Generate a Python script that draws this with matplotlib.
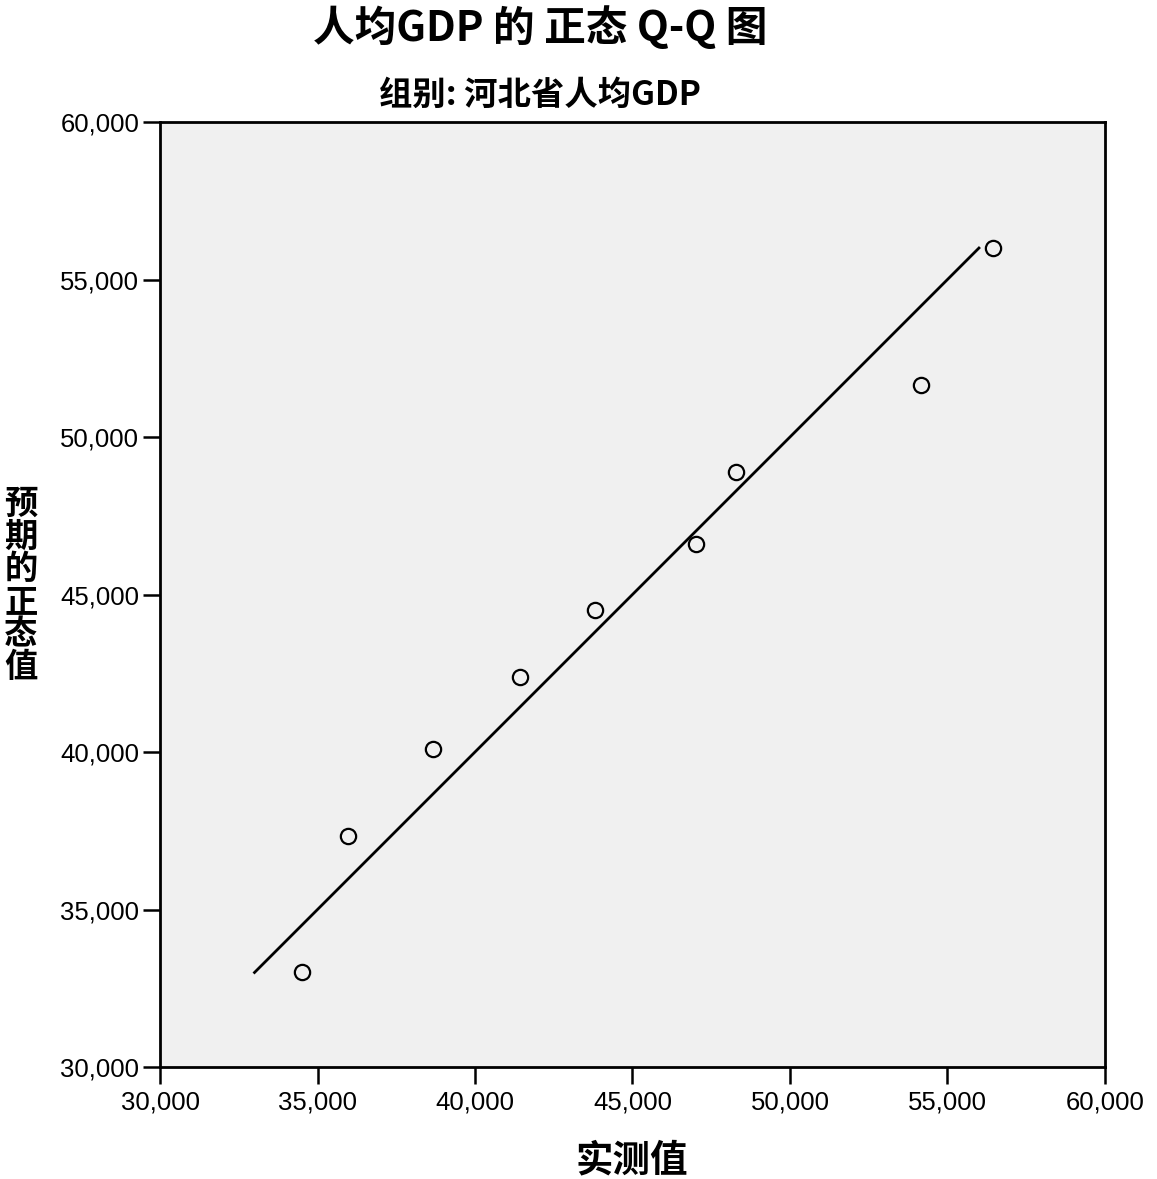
import matplotlib.pyplot as plt

plt.rcParams['font.family'] = ['Liberation Sans', 'Noto Sans CJK SC', 'DejaVu Sans']

# 河北省人均GDP: observed vs expected normal values
observed = [34500, 35970, 38670, 41430, 43810, 47020, 48290, 54160, 56440]
expected = [33010, 37330, 40100, 42380, 44510, 46600, 48890, 51650, 56000]
ref_line = [33000, 56000]

xticks = [30000, 35000, 40000, 45000, 50000, 55000, 60000]
yticks = [30000, 35000, 40000, 45000, 50000, 55000, 60000]

cjk = ['Noto Sans CJK SC', 'DejaVu Sans']

fig = plt.figure(figsize=(11.57, 11.79), dpi=100)
ax = fig.add_axes([0.1383, 0.095, 0.955 - 0.1383, 0.8965 - 0.095])
ax.set_facecolor('#f0f0f0')

# reference line y = x
ax.plot(ref_line, ref_line, color='black', linewidth=2)
ax.plot(observed, expected, linestyle='none', marker='o', markersize=11,
        markerfacecolor='none', markeredgecolor='black', markeredgewidth=1.6)

ax.set_xlim(30000, 60000)
ax.set_ylim(30000, 60000)
ax.set_xticks(xticks)
ax.set_yticks(yticks)
ax.set_xticklabels([f'{v:,}' for v in xticks])
ax.set_yticklabels([f'{v:,}' for v in yticks])
ax.tick_params(direction='out', length=12, width=1.8, labelsize=18.5, color='black')
ax.tick_params(axis='x', pad=5)
ax.tick_params(axis='y', pad=3)

for side in ['left', 'bottom', 'top', 'right']:
    ax.spines[side].set_linewidth(2)
    ax.spines[side].set_color('black')

# titles
fig.text(0.467, 0.976, '人均GDP 的 正态 Q-Q 图', ha='center', va='center',
         fontsize=30, fontweight='bold', family=cjk)
fig.text(0.467, 0.919, '组别: 河北省人均GDP', ha='center', va='center',
         fontsize=24, fontweight='bold', family=cjk)

# axis labels
fig.text(0.546, 0.016, '实测值', ha='center', va='center',
         fontsize=27, fontweight='bold', family=cjk)
fig.text(0.018, 0.503, '\n'.join('预期的正态值'), ha='center', va='center',
         fontsize=24, fontweight='bold', family=cjk, linespacing=0.98)

fig.savefig('out.png', dpi=100)
